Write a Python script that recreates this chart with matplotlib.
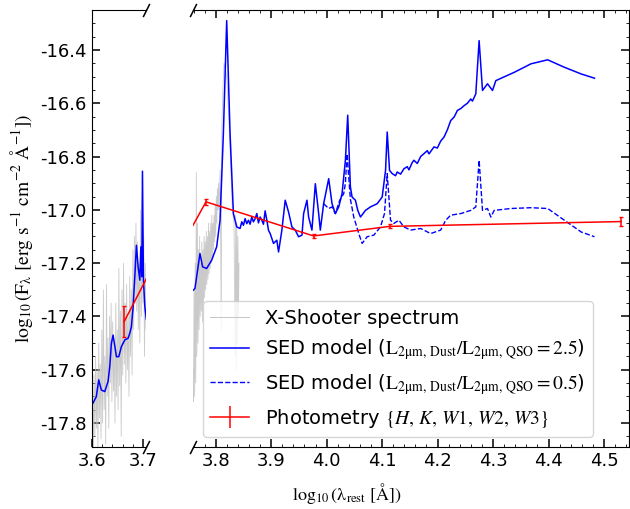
import numpy as np
import matplotlib.pyplot as plt
from matplotlib.lines import Line2D
from matplotlib.ticker import MultipleLocator

plt.rcParams['mathtext.fontset'] = 'stix'
plt.rcParams['axes.unicode_minus'] = False

# X-Shooter spectrum (log10 lambda, log10 F)
spec_x = [3.6000, 3.6015, 3.6030, 3.6045, 3.6060, 3.6075, 3.6090, 3.6105, 3.6120, 3.6135,
          3.6150, 3.6165, 3.6180, 3.6195, 3.6210, 3.6225, 3.6240, 3.6255, 3.6270, 3.6285,
          3.6300, 3.6315, 3.6330, 3.6345, 3.6360, 3.6375, 3.6390, 3.6405, 3.6420, 3.6435,
          3.6450, 3.6465, 3.6480, 3.6495, 3.6510, 3.6525, 3.6540, 3.6555, 3.6570, 3.6585,
          3.6600, 3.6615, 3.6630, 3.6645, 3.6660, 3.6675, 3.6690, 3.6705, 3.6720, 3.6735,
          3.6750, 3.6765, 3.6780, 3.6795, 3.6810, 3.6825, 3.6840, 3.6855, 3.6870, 3.6885,
          3.6900, 3.6915, 3.6930, 3.6945, 3.6960, 3.6975, 3.6990, 3.7005, 3.7020, 3.7035,
          3.7050,
          3.7590, 3.7600, 3.7610, 3.7620, 3.7630, 3.7640, 3.7650, 3.7660, 3.7670, 3.7680,
          3.7690, 3.7700, 3.7710, 3.7720, 3.7730, 3.7740, 3.7750, 3.7760, 3.7770, 3.7780,
          3.7790, 3.7800, 3.7810, 3.7820, 3.7830, 3.7840, 3.7850, 3.7860, 3.7870, 3.7880,
          3.7890, 3.7900, 3.7910, 3.7920, 3.7930, 3.7940, 3.7950, 3.7960, 3.7970, 3.7980,
          3.7990, 3.8000, 3.8010, 3.8020, 3.8030, 3.8040, 3.8050, 3.8060, 3.8080, 3.8100,
          3.8110, 3.8130, 3.8150, 3.8200, 3.8250, 3.8300, 3.8330, 3.8350, 3.8360, 3.8370,
          3.8380, 3.8390, 3.8400, 3.8410, 3.8420]
spec_y = [-17.88, -17.70, -17.90, -17.62, -17.85, -17.55, -17.82, -17.60, -17.90, -17.50,
          -17.78, -17.58, -17.86, -17.45, -17.80, -17.30, -17.75, -17.55, -17.88, -17.28,
          -17.70, -17.48, -17.82, -17.40, -17.65, -17.35, -17.72, -17.42, -17.68, -17.50,
          -17.80, -17.35, -17.70, -17.45, -17.75, -17.22, -17.66, -17.38, -17.85, -17.30,
          -17.62, -17.20, -17.58, -17.35, -17.65, -17.28, -17.60, -17.40, -17.70, -17.25,
          -17.55, -17.30, -17.62, -17.15, -17.45, -17.10, -17.35, -17.05, -17.38, -17.12,
          -17.45, -17.20, -17.50, -17.00, -17.40, -16.95, -17.35, -17.10, -17.55, -17.20,
          -17.45,
          -17.60, -17.72, -17.30, -17.70, -17.20, -17.65, -16.86, -17.55, -17.05, -17.50,
          -17.15, -17.45, -17.10, -17.40, -17.20, -17.38, -17.12, -17.42, -17.15, -17.35,
          -17.10, -17.33, -17.12, -17.30, -17.08, -17.28, -17.10, -17.26, -17.05, -17.24,
          -17.08, -17.22, -17.05, -17.20, -17.02, -17.18, -17.05, -17.15, -17.02, -17.12,
          -16.98, -17.10, -16.95, -17.05, -16.92, -17.00, -16.90, -17.00, -16.85, -17.45,
          -16.70, -16.55, -16.45, -16.50, -16.72, -17.00, -17.05, -17.55, -17.02, -17.60,
          -17.05, -17.50, -17.10, -17.40, -17.20]

# SED model, L_dust/L_QSO = 2.5
sed_x = [3.6006, 3.6089, 3.6135, 3.6186, 3.6252, 3.6316, 3.6349, 3.6380, 3.6413, 3.6446,
         3.6477, 3.6523, 3.6574, 3.6640, 3.6703, 3.6736, 3.6767, 3.6800, 3.6833, 3.6864,
         3.6897, 3.6930, 3.6950, 3.6969, 3.6981, 3.7000, 3.7027, 3.7058,
         3.7626, 3.7716, 3.7764, 3.7837, 3.7927, 3.8017, 3.8078, 3.8138, 3.8198, 3.8259,
         3.8319, 3.8379, 3.8439, 3.8470, 3.8500, 3.8530, 3.8560, 3.8590, 3.8620, 3.8650,
         3.8680, 3.8711, 3.8741, 3.8771, 3.8801, 3.8831, 3.8861, 3.8891, 3.8922, 3.8952,
         3.8982, 3.9042, 3.9102, 3.9133, 3.9193, 3.9253, 3.9313, 3.9374, 3.9434, 3.9494,
         3.9555, 3.9585, 3.9645, 3.9675, 3.9735, 3.9796, 3.9856, 3.9886, 3.9946, 4.0037,
         4.0097, 4.0157, 4.0218, 4.0278, 4.0338, 4.0380, 4.0428, 4.0459, 4.0519, 4.0561,
         4.0610, 4.0700, 4.0790, 4.0911, 4.1001, 4.1062, 4.1092, 4.1134, 4.1182, 4.1242,
         4.1272, 4.1333, 4.1393, 4.1453, 4.1484, 4.1544, 4.1574, 4.1634, 4.1695, 4.1755,
         4.1815, 4.1845, 4.1935, 4.1996, 4.2056, 4.2116, 4.2176, 4.2237, 4.2297, 4.2327,
         4.2357, 4.2418, 4.2478, 4.2538, 4.2599, 4.2629, 4.2689, 4.2749, 4.2810, 4.2900,
         4.2990, 4.3051, 4.3382, 4.3684, 4.3985, 4.4286, 4.4588, 4.4829]
sed_hi = [-17.732, -17.701, -17.638, -17.676, -17.682, -17.644, -17.588, -17.501, -17.470, -17.513,
          -17.551, -17.551, -17.513, -17.488, -17.482, -17.463, -17.439, -17.364, -17.251, -17.133,
          -17.214, -17.264, -17.139, -17.251, -16.855, -17.264, -17.364, -17.413,
          -17.295, -17.164, -17.214, -17.220, -17.189, -17.139, -17.039, -16.715, -16.290, -16.715,
          -17.014, -17.064, -17.070, -17.045, -17.058, -17.033, -17.052, -17.039, -17.054, -17.027,
          -17.045, -17.033, -17.014, -17.049, -17.027, -17.039, -17.054, -17.004, -17.039, -17.077,
          -17.089, -17.126, -17.114, -17.158, -17.076, -16.964, -17.008, -17.064, -17.076, -17.101,
          -17.095, -17.014, -16.964, -17.027, -17.076, -16.902, -17.014, -17.076, -16.977, -16.883,
          -16.977, -17.014, -16.989, -16.939, -16.814, -16.645, -16.914, -16.952, -16.964, -17.002,
          -17.027, -17.002, -16.989, -16.977, -16.952, -16.852, -16.708, -16.852, -16.864, -16.872,
          -16.858, -16.866, -16.846, -16.838, -16.850, -16.822, -16.814, -16.826, -16.800, -16.789,
          -16.778, -16.790, -16.764, -16.768, -16.742, -16.727, -16.700, -16.665, -16.652, -16.640,
          -16.627, -16.620, -16.609, -16.600, -16.584, -16.592, -16.565, -16.365, -16.552, -16.527,
          -16.552, -16.515, -16.484, -16.452, -16.437, -16.465, -16.490, -16.506]

# SED model, L_dust/L_QSO = 0.5 (same as above below ~4.0)
sed_lo_x = [3.9946, 4.0037, 4.0097, 4.0157, 4.0236, 4.0308, 4.0338, 4.0368, 4.0428, 4.0489,
            4.0579, 4.0640, 4.0730, 4.0850, 4.0971, 4.1043, 4.1092, 4.1152, 4.1212, 4.1303,
            4.1393, 4.1514, 4.1694, 4.1875, 4.2056, 4.2147, 4.2237, 4.2418, 4.2599, 4.2689,
            4.2749, 4.2810, 4.2900, 4.2960, 4.3021, 4.3322, 4.3684, 4.3985, 4.4286, 4.4588,
            4.4829]
sed_lo = [-16.977, -16.995, -16.989, -17.014, -16.964, -16.939, -16.900, -16.790, -16.960, -17.027,
          -17.089, -17.126, -17.101, -17.095, -17.064, -17.014, -16.864, -17.039, -17.051, -17.039,
          -17.064, -17.076, -17.070, -17.089, -17.076, -17.039, -17.020, -17.014, -17.002, -16.989,
          -16.814, -17.002, -16.995, -17.027, -17.002, -16.995, -16.992, -16.995, -17.039, -17.083,
          -17.101]

# photometry H, K, W1, W2, W3
phot_x = [3.6626, 3.7825, 3.9765, 4.1140, 4.5310]
phot_y = [-17.420, -16.970, -17.098, -17.062, -17.044]
phot_err = [0.058, 0.011, 0.008, 0.008, 0.018]

lab_spec = 'X-Shooter spectrum'
lab_hi = r'SED model ($\mathrm{L_{2μm,\,Dust}/L_{2μm,\,QSO}=2.5}$)'
lab_lo = r'SED model ($\mathrm{L_{2μm,\,Dust}/L_{2μm,\,QSO}=0.5}$)'
lab_phot = r'Photometry $\{H,\,K,\,W1,\,W2,\,W3\}$'

fig = plt.figure(figsize=(6.3, 5.09), dpi=100)
ax1 = fig.add_axes([0.1456, 0.1218, 0.0862, 0.8586])
ax2 = fig.add_axes([0.3063, 0.1218, 0.6920, 0.8586], sharey=ax1)

for ax in (ax1, ax2):
    ax.plot(spec_x, spec_y, color='#bdbdbd', lw=0.6, alpha=0.8)
    ax.plot(sed_x, sed_hi, color='blue', lw=1.1)
    ax.plot(sed_lo_x, sed_lo, color='blue', lw=1.0, ls='--')
    ax.errorbar(phot_x, phot_y, yerr=phot_err, fmt='-', color='red', lw=1.1, capsize=1.5)
    ax.tick_params(which='both', direction='in', labelsize=13)
    ax.tick_params(which='major', length=5.5, width=1.1)
    ax.tick_params(which='minor', length=2.5)
    ax.xaxis.set_minor_locator(MultipleLocator(0.02))
    ax.yaxis.set_minor_locator(MultipleLocator(0.05))

ax1.set_xlim(3.6, 3.705)
ax1.set_ylim(-17.89, -16.25)
ax1.xaxis.set_major_locator(MultipleLocator(0.1))
ax1.yaxis.set_major_locator(MultipleLocator(0.2))
ax1.spines['right'].set_visible(False)
ax1.tick_params(right=False)

ax2.set_xlim(3.759, 4.545)
ax2.xaxis.set_major_locator(MultipleLocator(0.1))
ax2.spines['left'].set_visible(False)
ax2.tick_params(which='both', left=False, labelleft=False, right=True, top=True)

# broken-axis marks
kw = dict(marker=[(-0.5, -1), (0.5, 1)], markersize=9.5, linestyle='none',
          color='k', mec='k', mew=1.1, clip_on=False)
ax1.plot([1, 1], [0, 1], transform=ax1.transAxes, **kw)
ax2.plot([0, 0], [0, 1], transform=ax2.transAxes, **kw)

ax1.set_ylabel(r'$\log_{10}(\mathrm{F_{\lambda}\ [erg\ s^{-1}\ cm^{-2}\ Å^{-1}]})$', fontsize=14)
fig.text(0.551, 0.03, r'$\log_{10}(\mathrm{λ_{rest}\ [Å]})$', fontsize=13, ha='center', va='center')

handles = [
    Line2D([], [], color='#bdbdbd', lw=0.6),
    Line2D([], [], color='blue', lw=1.1),
    Line2D([], [], color='blue', lw=1.0, ls='--'),
    Line2D([], [], color='red', lw=1.1, marker='|', markersize=16, mew=1.1),
]
ax2.legend(handles, [lab_spec, lab_hi, lab_lo, lab_phot], loc='lower left',
           fontsize=14, handlelength=2.0)

fig.savefig('out.png', dpi=100)
